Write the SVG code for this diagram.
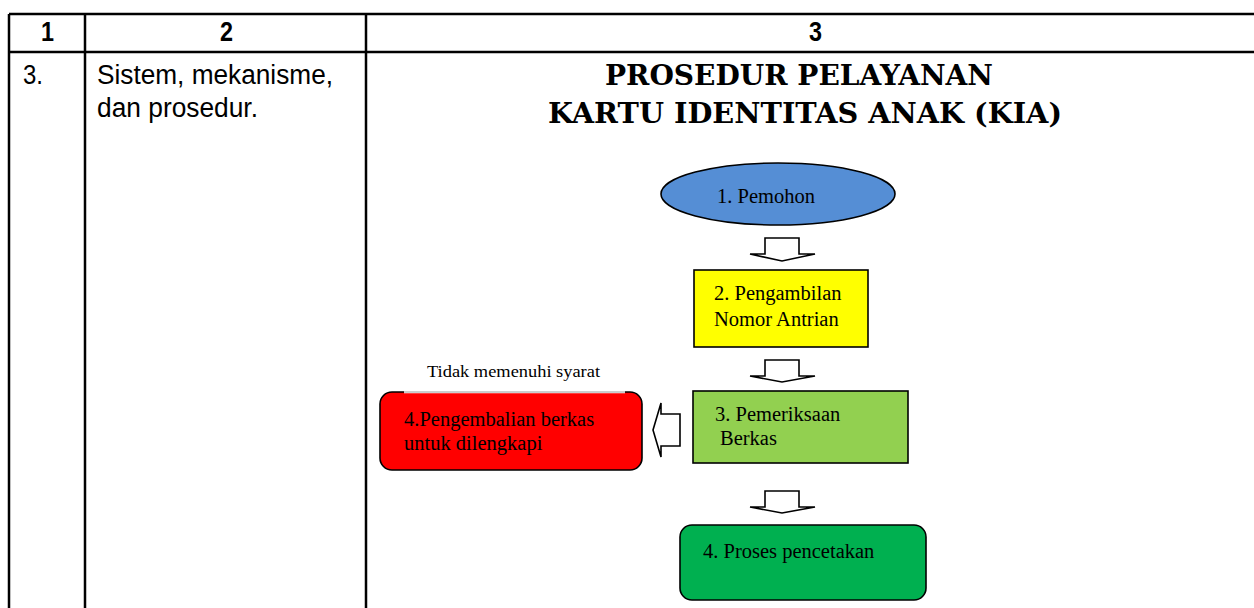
<svg xmlns="http://www.w3.org/2000/svg" width="1254" height="608" viewBox="0 0 1254 608">
  <style>
    .grid { stroke: #000; stroke-width: 2.5; fill: none; }
    .hdr { font-family: "Liberation Sans", Arial, sans-serif; font-weight: bold; font-size: 27px; fill: #000; }
    .cell { font-family: "Liberation Sans", Arial, sans-serif; font-size: 27px; fill: #000; }
    .title { font-family: "DejaVu Serif", "Liberation Serif", serif; font-weight: bold; font-size: 28px; fill: #000; }
    .lbl { font-family: "Liberation Serif", "Times New Roman", serif; font-size: 20.5px; fill: #000; }
    .small { font-family: "Liberation Serif", "Times New Roman", serif; font-size: 16px; fill: #000; }
    .shape { stroke: #000; stroke-width: 1.6; }
    .arrow { fill: #fff; stroke: #000; stroke-width: 1.6; stroke-linejoin: miter; }
  </style>

  <rect x="0" y="0" width="1254" height="608" fill="#fff"/>

  <g id="table">
    <line class="grid" x1="9" y1="14" x2="1254" y2="14"/>
    <line class="grid" x1="9" y1="52" x2="1254" y2="52"/>
    <line class="grid" x1="9" y1="14" x2="9" y2="608"/>
    <line class="grid" x1="85" y1="14" x2="85" y2="608"/>
    <line class="grid" x1="366" y1="14" x2="366" y2="608"/>
    <text class="hdr" x="41" y="41" textLength="13" lengthAdjust="spacingAndGlyphs">1</text>
    <text class="hdr" x="220" y="41" textLength="13" lengthAdjust="spacingAndGlyphs">2</text>
    <text class="hdr" x="809" y="41" textLength="13" lengthAdjust="spacingAndGlyphs">3</text>
    <text class="cell" x="23" y="84" textLength="20" lengthAdjust="spacingAndGlyphs">3.</text>
    <text class="cell" x="97" y="84" textLength="236" lengthAdjust="spacingAndGlyphs">Sistem, mekanisme,</text>
    <text class="cell" x="97" y="117" textLength="161" lengthAdjust="spacingAndGlyphs">dan prosedur.</text>
  </g>

  <g id="title">
    <text class="title" x="605" y="85" textLength="388" lengthAdjust="spacingAndGlyphs">PROSEDUR PELAYANAN</text>
    <text class="title" x="548" y="123" textLength="514" lengthAdjust="spacingAndGlyphs">KARTU IDENTITAS ANAK (KIA)</text>
  </g>

  <g id="connectors">
    <polygon class="arrow" points="765,238 799,238 799,254 815,254 782,261 750,254 765,254"/>
    <polygon class="arrow" points="765,360 799,360 799,376 815,376 782,382 750,376 765,376"/>
    <polygon class="arrow" points="765,491 799,491 799,507 815,507 782,513 750,507 765,507"/>
    <polygon class="arrow" points="680,414 661,414 661,403 653,430 661,457 661,446 680,446"/>
  </g>

  <g id="node-pemohon">
    <ellipse class="shape" cx="778" cy="194" rx="117" ry="31" fill="#558ED5"/>
    <text class="lbl" x="717" y="203">1. Pemohon</text>
  </g>

  <g id="node-antrian">
    <rect class="shape" x="694" y="270" width="174" height="77" fill="#FFFF00"/>
    <text class="lbl" x="714" y="300">2. Pengambilan</text>
    <text class="lbl" x="714" y="326">Nomor Antrian</text>
  </g>

  <g id="node-pemeriksaan">
    <rect class="shape" x="693" y="391" width="215" height="72" fill="#92D050"/>
    <text class="lbl" x="715" y="421">3. Pemeriksaan</text>
    <text class="lbl" x="720" y="445">Berkas</text>
  </g>

  <g id="node-pengembalian">
    <rect class="shape" x="380" y="392" width="262" height="78" rx="12" ry="12" fill="#FF0000"/>
    <line x1="404" y1="392" x2="625" y2="392" stroke="#fff" stroke-width="2.5"/>
    <line x1="404" y1="392" x2="625" y2="392" stroke="#9a9a9a" stroke-width="1"/>
    <text class="lbl" x="404" y="426" fill="#1a0000">4.Pengembalian berkas</text>
    <text class="lbl" x="404" y="450" fill="#1a0000">untuk dilengkapi</text>
    <text class="small" x="427" y="377" textLength="173" lengthAdjust="spacingAndGlyphs">Tidak memenuhi syarat</text>
  </g>

  <g id="node-pencetakan">
    <rect class="shape" x="680" y="525" width="246" height="75" rx="12" ry="12" fill="#00B050"/>
    <text class="lbl" x="703" y="558">4. Proses pencetakan</text>
  </g>
</svg>
